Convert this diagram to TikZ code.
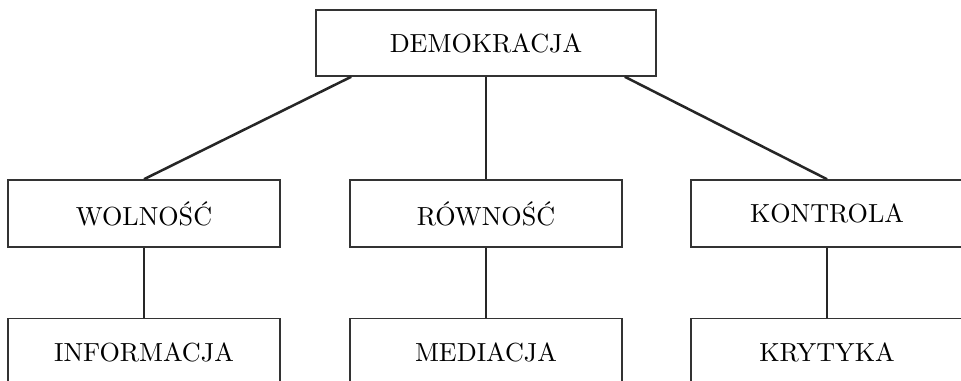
\documentclass[tikz,border=0pt]{standalone}
\usepackage{fontspec}
\setmainfont{lmroman10-regular}[Extension=.otf]
\usetikzlibrary{positioning}

\begin{document}
\begin{tikzpicture}[
    box/.style={draw=black!80, line width=1.1pt, minimum width=6.8cm,
      minimum height=1.675cm, inner sep=0pt,
      font=\fontsize{18.6}{22}\selectfont},
    link/.style={draw=black!85, line width=1.8pt}
  ]

  % Picture frame (the lower row runs off the page).
  \useasboundingbox (0,0) rectangle (24.025,9.5);
  \clip (0,0) rectangle (24.025,9.5);

  % Top of the tree.
  \node[box, minimum width=8.5cm, minimum height=1.65cm] (demo) at (12.15, 8.425)
    {DEMOKRACJA};

  % Middle row.
  \node[box] (wolnosc)  at (3.6, 4.1625)    {WOLNOŚĆ};
  \node[box] (rownosc)  at (12.15, 4.1625)  {RÓWNOŚĆ};
  \node[box] (kontrola) at (20.675, 4.1625) {KONTROLA};

  % Bottom row, under the middle one.
  \node[box, below=1.75cm of wolnosc]  (informacja) {INFORMACJA};
  \node[box, below=1.75cm of rownosc]  (mediacja)   {MEDIACJA};
  \node[box, below=1.75cm of kontrola] (krytyka)    {KRYTYKA};

  % Connectors.
  \draw[link] ([xshift=0.9cm]demo.south west) -- (wolnosc.north);
  \draw[link] (demo.south) -- (rownosc.north);
  \draw[link] ([xshift=-0.8cm]demo.south east) -- (kontrola.north);

  \draw[link] (wolnosc.south)  -- (informacja.north);
  \draw[link] (rownosc.south)  -- (mediacja.north);
  \draw[link] (kontrola.south) -- (krytyka.north);

\end{tikzpicture}
\end{document}
